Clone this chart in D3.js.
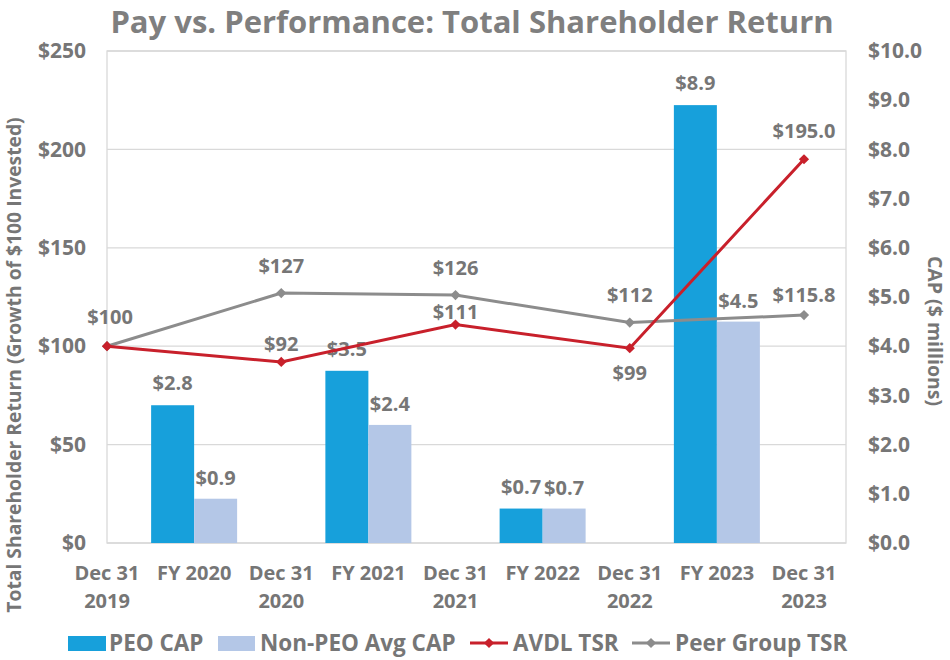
<!DOCTYPE html>
<html><head><meta charset="utf-8">
<script src="https://cdn.jsdelivr.net/npm/d3@7"></script>
<style>
body{margin:0;background:#fff;}
text{font-family:"Open Sans",sans-serif;font-weight:bold;fill:#767676;}
</style></head>
<body><svg id="c" width="950" height="660"></svg>
<script>
const categories = [["Dec 31","2019"],["FY 2020"],["Dec 31","2020"],["FY 2021"],["Dec 31","2021"],["FY 2022"],["Dec 31","2022"],["FY 2023"],["Dec 31","2023"]];
const barIdx = [1,3,5,7];
const peoCap = [2.8,3.5,0.7,8.9];
const nonPeoCap = [0.9,2.4,0.7,4.5];
const lineIdx = [0,2,4,6,8];
const avdlTSR = [100,92,111,99,195];
const peerTSR = [100,127,126,112,115.8];
const peerLabels = ["$100","$127","$126","$112","$115.8"];
const avdlLabels = ["","$92","$111","$99","$195.0"];
const leftTicks = [0,50,100,150,200,250];
const rightTicks = [0,1,2,3,4,5,6,7,8,9,10];

// label placement (layout, not data)
const peerLabelDy = [-22,-20,-20,-21,-13];
const avdlLabelDy = [0,-11,-6,32,-21];

const svg = d3.select("#c");
const L=107,R=846,T=51,B=543;
const x = d3.scaleLinear().domain([0,8]).range([L,804]);
const y = d3.scaleLinear().domain([0,250]).range([B,T]);
const y2 = d3.scaleLinear().domain([0,10]).range([B,T]);
const bw = 43;
const TF = "21px", DF = "20px", XF = "20px";

// title
svg.append("text").attr("x",472).attr("y",33).attr("text-anchor","middle")
  .style("font-size","31px").style("fill","#7f7f7f").text("Pay vs. Performance: Total Shareholder Return");

// grid
svg.append("g").selectAll("line").data(leftTicks).join("line")
  .attr("x1",L).attr("x2",R).attr("y1",d=>y(d)).attr("y2",d=>y(d))
  .attr("stroke","#d9d9d9").attr("stroke-width",1.3);
svg.append("rect").attr("x",L).attr("y",T).attr("width",R-L).attr("height",B-T)
  .attr("fill","none").attr("stroke","#d9d9d9").attr("stroke-width",1.3);

// axes
const la = svg.append("g").attr("transform",`translate(${L},0)`)
  .call(d3.axisLeft(y).tickValues(leftTicks).tickFormat(d=>"$"+d).tickSize(0).tickPadding(21));
la.select(".domain").remove();
la.selectAll("text").style("font-size",TF).style("fill","#767676").style("font-family","'Open Sans',sans-serif");
const ra = svg.append("g").attr("transform",`translate(${R},0)`)
  .call(d3.axisRight(y2).tickValues(rightTicks).tickFormat(d=>"$"+d.toFixed(1)).tickSize(0).tickPadding(22));
ra.select(".domain").remove();
ra.selectAll("text").style("font-size",TF).style("fill","#767676").style("font-family","'Open Sans',sans-serif");

// x labels
const xl = svg.append("g");
categories.forEach((c,i)=>{
  const t = xl.append("text").attr("x",x(i)).attr("text-anchor","middle").style("font-size",XF);
  c.forEach((s,j)=>t.append("tspan").attr("x",x(i)).attr("y",580+j*28).text(s));
});

// axis titles
svg.append("text").attr("transform","translate(21,365) rotate(-90)").attr("text-anchor","middle")
  .style("font-size","19.3px").text("Total Shareholder Return (Growth of $100 Invested)");
svg.append("text").attr("transform","translate(928,331) rotate(90)").attr("text-anchor","middle")
  .style("font-size","19.5px").text("CAP ($ millions)");

// bars
const bars = svg.append("g");
barIdx.forEach((ci,k)=>{
  bars.append("rect").attr("x",x(ci)-bw).attr("y",y2(peoCap[k])).attr("width",bw).attr("height",B-y2(peoCap[k])).attr("fill","#17a0db");
  bars.append("rect").attr("x",x(ci)).attr("y",y2(nonPeoCap[k])).attr("width",bw).attr("height",B-y2(nonPeoCap[k])).attr("fill","#b4c7e7");
  bars.append("text").attr("x",x(ci)-bw/2).attr("y",y2(peoCap[k])-15).attr("text-anchor","middle").style("font-size",DF).text("$"+peoCap[k].toFixed(1));
  bars.append("text").attr("x",x(ci)+bw/2).attr("y",y2(nonPeoCap[k])-14).attr("text-anchor","middle").style("font-size",DF).text("$"+nonPeoCap[k].toFixed(1));
});

// lines
const marker = d3.symbol().type(d3.symbolSquare).size(52);
function drawLine(vals,color){
  const pts = vals.map((v,k)=>[x(lineIdx[k]),y(v)]);
  svg.append("path").attr("d",d3.line()(pts)).attr("fill","none").attr("stroke",color).attr("stroke-width",3);
  svg.append("g").selectAll("path").data(pts).join("path").attr("d",marker)
    .attr("transform",d=>`translate(${d[0]},${d[1]}) rotate(45)`).attr("fill",color);
}
drawLine(peerTSR,"#8c8c8c");
drawLine(avdlTSR,"#c8202b");

// line labels
peerTSR.forEach((v,k)=>{
  svg.append("text").attr("x",x(lineIdx[k])+(k===0?3:0)).attr("y",y(v)+peerLabelDy[k]).attr("text-anchor","middle").style("font-size",DF).text(peerLabels[k]);
});
avdlTSR.forEach((v,k)=>{
  if(!avdlLabels[k]) return;
  svg.append("text").attr("x",x(lineIdx[k])).attr("y",y(v)+avdlLabelDy[k]).attr("text-anchor","middle").style("font-size",DF).text(avdlLabels[k]);
});

// legend
const LF="22.5px";
const lg = svg.append("g").attr("transform","translate(0,643)");
lg.append("rect").attr("x",68).attr("y",-7).attr("width",38).attr("height",15).attr("fill","#17a0db");
lg.append("text").attr("x",109).attr("y",8).style("font-size",LF).text("PEO CAP");
lg.append("rect").attr("x",218).attr("y",-7).attr("width",37).attr("height",15).attr("fill","#b4c7e7");
lg.append("text").attr("x",260).attr("y",8).style("font-size",LF).text("Non-PEO Avg CAP");
lg.append("line").attr("x1",470).attr("x2",508).attr("y1",0).attr("y2",0).attr("stroke","#c8202b").attr("stroke-width",3);
lg.append("path").attr("d",marker).attr("transform","translate(489,0) rotate(45)").attr("fill","#c8202b");
lg.append("text").attr("x",513).attr("y",8).style("font-size",LF).text("AVDL TSR");
lg.append("line").attr("x1",632).attr("x2",670).attr("y1",0).attr("y2",0).attr("stroke","#8c8c8c").attr("stroke-width",3);
lg.append("path").attr("d",marker).attr("transform","translate(651,0) rotate(45)").attr("fill","#8c8c8c");
lg.append("text").attr("x",675).attr("y",8).style("font-size",LF).text("Peer Group TSR");
</script></body></html>
